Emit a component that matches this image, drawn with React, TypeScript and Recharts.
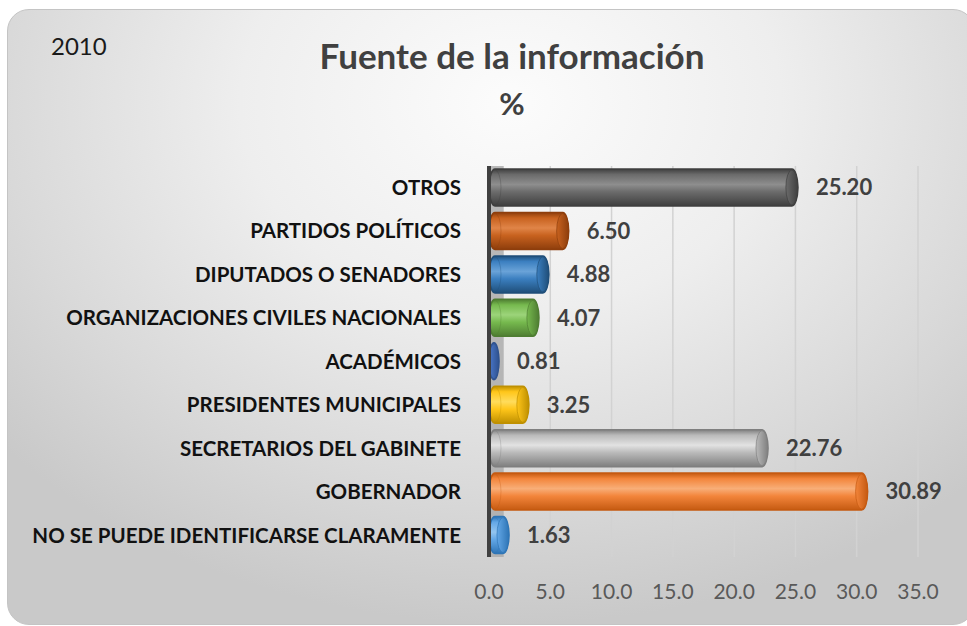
import { Bar, BarChart, CartesianGrid, Cell, LabelList, ReferenceArea, XAxis, YAxis } from "recharts";

const categories = [
    "OTROS",
    "PARTIDOS POLÍTICOS",
    "DIPUTADOS O SENADORES",
    "ORGANIZACIONES CIVILES NACIONALES",
    "ACADÉMICOS",
    "PRESIDENTES MUNICIPALES",
    "SECRETARIOS DEL GABINETE",
    "GOBERNADOR",
    "NO SE PUEDE IDENTIFICARSE CLARAMENTE",
];
const values = [25.2, 6.5, 4.88, 4.07, 0.81, 3.25, 22.76, 30.89, 1.63];
const xTicks = [0, 5, 10, 15, 20, 25, 30, 35];

const baseColors = ["#6b6b6b", "#c8621f", "#3b7fc0", "#76b94e", "#4a78cc", "#ffc61a", "#bababa", "#f3853b", "#63a7e6"];
const lightColors = ["#8e8e8e", "#e08548", "#6aa3d8", "#9cd47a", "#7199e0", "#ffdc5c", "#e2e2e2", "#f8ae78", "#93c5f0"];
const darkColors = ["#3f3f3f", "#8e3e0c", "#1f4e79", "#4e7d32", "#2f528f", "#bf9000", "#7f7f7f", "#c55a11", "#2e75b6"];

const chartData = categories.map((label, i) => ({ label, valor: values[i] }));

const font = "Lato, 'Open Sans', sans-serif";

const Cylinder = (props: any) => {
    const { x, y, width, height, index } = props;
    if (!width || width <= 0) return null;
    const r = Math.min(6, width / 2);
    const cy = y + height / 2;
    const edge = darkColors[index];
    return (
        <g>
            <rect x={x} y={y} width={width} height={height} rx={r} ry={height / 2} fill={`url(#cyl-${index})`} stroke={edge} strokeWidth={1.5} />
            <ellipse cx={x + r} cy={cy} rx={r} ry={height / 2 - 1} fill="none" stroke={edge} strokeOpacity={0.3} />
            <ellipse cx={x + width - r} cy={cy} rx={r} ry={height / 2 - 1} fill={`url(#cap-${index})`} stroke={edge} strokeOpacity={0.7} />
        </g>
    );
};

export default function App() {
    return (
        <div
            style={{
                position: "absolute",
                left: 7,
                top: 9,
                width: 968,
                height: 616,
                borderRadius: 22,
                border: "1px solid #c4c4c4",
                boxSizing: "border-box",
                background: "radial-gradient(ellipse 70% 85% at 52% 15%, #fcfcfc 0%, #eeeeee 40%, #d9d9d9 75%, #c9c9c9 100%)",
                fontFamily: font,
                overflow: "hidden",
            }}
        >
            <div style={{ position: "absolute", left: 43, top: 21, fontSize: 24, color: "#1a1a1a" }}>2010</div>
            <div style={{ position: "absolute", left: 0, width: 1008, top: 24, textAlign: "center", fontSize: 35, fontWeight: 700, color: "#404040" }}>
                Fuente de la información
            </div>
            <div style={{ position: "absolute", left: 0, width: 1008, top: 74, textAlign: "center", fontSize: 31, fontWeight: 700, color: "#404040" }}>%</div>
            <BarChart
                width={960}
                height={616}
                data={chartData}
                layout="vertical"
                barSize={37}
                margin={{ top: 157, right: 49, bottom: 38, left: 0 }}
                style={{ position: "absolute", left: -1, top: -1 }}
            >
                <defs>
                    {baseColors.map((c, i) => (
                        <linearGradient key={`g${i}`} id={`cyl-${i}`} x1="0" y1="0" x2="0" y2="1">
                            <stop offset="0%" stopColor={darkColors[i]} />
                            <stop offset="15%" stopColor={c} />
                            <stop offset="42%" stopColor={lightColors[i]} />
                            <stop offset="62%" stopColor={c} />
                            <stop offset="100%" stopColor={darkColors[i]} />
                        </linearGradient>
                    ))}
                    {baseColors.map((c, i) => (
                        <linearGradient key={`c${i}`} id={`cap-${i}`} x1="0" y1="0" x2="1" y2="0">
                            <stop offset="0%" stopColor={c} />
                            <stop offset="100%" stopColor={darkColors[i]} />
                        </linearGradient>
                    ))}
                </defs>
                <CartesianGrid horizontal={false} stroke="#d2d2d2" strokeWidth={1.5} />
                <ReferenceArea x1={0} x2={1.2} fill="#a9a9a9" fillOpacity={0.8} stroke="none" />
                <XAxis
                    type="number"
                    domain={[0, 35]}
                    ticks={xTicks}
                    height={30}
                    axisLine={false}
                    tickLine={false}
                    tickSize={0}
                    tickMargin={27}
                    tick={{ fill: "#595959", fontSize: 21, fontFamily: font }}
                    tickFormatter={(v) => Number(v).toFixed(1)}
                />
                <YAxis
                    type="category"
                    dataKey="label"
                    width={482}
                    axisLine={{ stroke: "#404040", strokeWidth: 4 }}
                    tickLine={false}
                    tickSize={0}
                    tickMargin={28}
                    interval={0}
                    tick={{ fill: "#111111", fontSize: 20.5, fontWeight: 700, fontFamily: font }}
                />
                <Bar dataKey="valor" shape={Cylinder} isAnimationActive={false}>
                    {chartData.map((_, i) => (
                        <Cell key={i} fill={baseColors[i]} />
                    ))}
                    <LabelList
                        dataKey="valor"
                        position="right"
                        offset={18}
                        formatter={(v: any) => Number(v).toFixed(2)}
                        style={{ fill: "#404040", fontSize: 22, fontWeight: 700, fontFamily: font }}
                    />
                </Bar>
            </BarChart>
        </div>
    );
}
